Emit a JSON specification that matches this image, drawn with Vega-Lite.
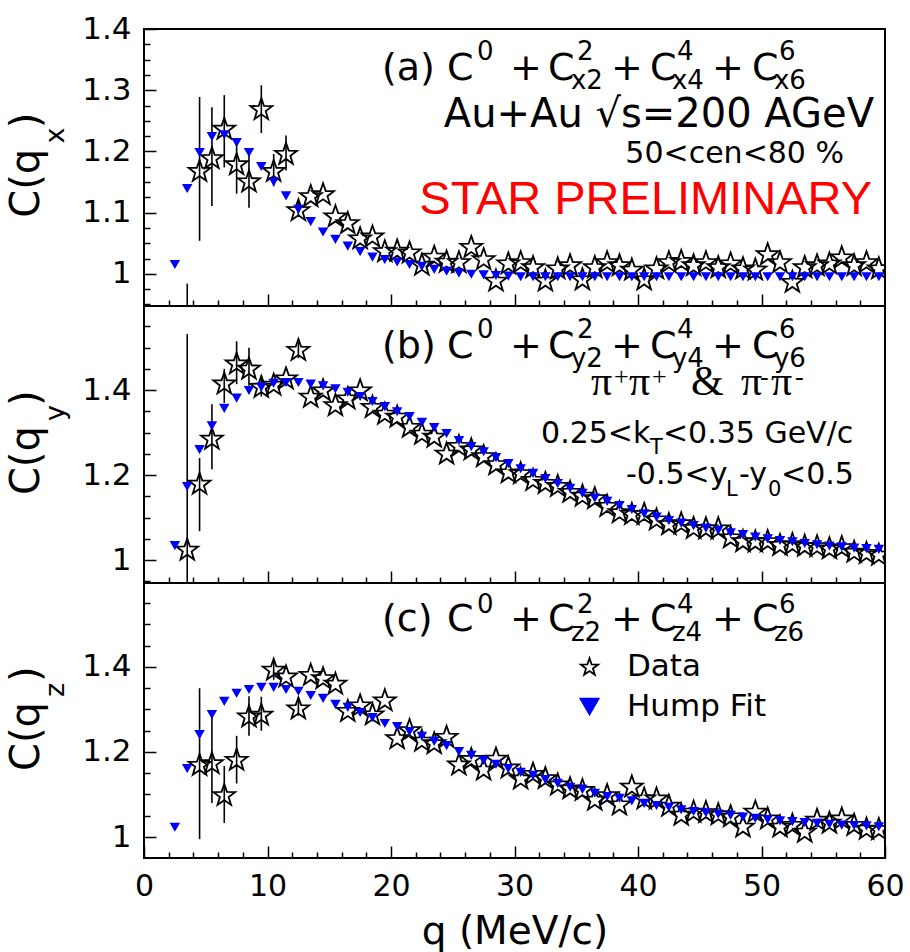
{
"$schema":"https://vega.github.io/schema/vega-lite/v6.json",
"background":"white",
"padding":{"left":6,"top":12,"right":4,"bottom":0},
"spacing":0,
"bounds":"flush",
"config":{"view":{"stroke":"black","strokeWidth":2},"axis":{"labelFont":"DejaVu Sans","titleFont":"DejaVu Sans","labelColor":"black","titleColor":"black","tickColor":"black"},
 "legend":{"title":null,"orient":"none","legendX":430,"legendY":622,"zindex":2,"symbolSize":330,"symbolStrokeWidth":1.8,"labelFontSize":31,"labelFont":"DejaVu Sans","labelColor":"black","rowPadding":8,"labelOffset":22,"padding":0}},
"datasets":{
"pts":[
{"p":"a","s":"Data","q":4.5,"C":1.169},{"p":"a","s":"Data","q":5.5,"C":1.190},{"p":"a","s":"Data","q":6.5,"C":1.238},{"p":"a","s":"Data","q":7.5,"C":1.180},{"p":"a","s":"Data","q":8.5,"C":1.152},{"p":"a","s":"Data","q":9.5,"C":1.270},{"p":"a","s":"Data","q":10.5,"C":1.169},{"p":"a","s":"Data","q":11.5,"C":1.197},{"p":"a","s":"Data","q":12.5,"C":1.105},{"p":"a","s":"Data","q":13.5,"C":1.128},{"p":"a","s":"Data","q":14.5,"C":1.131},{"p":"a","s":"Data","q":15.5,"C":1.095},{"p":"a","s":"Data","q":16.5,"C":1.084},{"p":"a","s":"Data","q":17.5,"C":1.059},{"p":"a","s":"Data","q":18.5,"C":1.062},{"p":"a","s":"Data","q":19.5,"C":1.038},{"p":"a","s":"Data","q":20.5,"C":1.039},{"p":"a","s":"Data","q":21.5,"C":1.036},{"p":"a","s":"Data","q":22.5,"C":1.016},{"p":"a","s":"Data","q":23.5,"C":1.029},{"p":"a","s":"Data","q":24.5,"C":1.021},{"p":"a","s":"Data","q":25.5,"C":1.020},{"p":"a","s":"Data","q":26.5,"C":1.045},{"p":"a","s":"Data","q":27.5,"C":1.025},{"p":"a","s":"Data","q":28.5,"C":0.990},{"p":"a","s":"Data","q":29.5,"C":1.018},{"p":"a","s":"Data","q":30.5,"C":1.020},{"p":"a","s":"Data","q":31.5,"C":1.012},{"p":"a","s":"Data","q":32.5,"C":0.990},{"p":"a","s":"Data","q":33.5,"C":1.010},{"p":"a","s":"Data","q":34.5,"C":1.015},{"p":"a","s":"Data","q":35.5,"C":0.992},{"p":"a","s":"Data","q":36.5,"C":1.012},{"p":"a","s":"Data","q":37.5,"C":1.020},{"p":"a","s":"Data","q":38.5,"C":1.015},{"p":"a","s":"Data","q":39.5,"C":1.008},{"p":"a","s":"Data","q":40.5,"C":0.992},{"p":"a","s":"Data","q":41.5,"C":1.010},{"p":"a","s":"Data","q":42.5,"C":1.020},{"p":"a","s":"Data","q":43.5,"C":1.022},{"p":"a","s":"Data","q":44.5,"C":1.015},{"p":"a","s":"Data","q":45.5,"C":1.020},{"p":"a","s":"Data","q":46.5,"C":1.012},{"p":"a","s":"Data","q":47.5,"C":1.018},{"p":"a","s":"Data","q":48.5,"C":1.010},{"p":"a","s":"Data","q":49.5,"C":1.008},{"p":"a","s":"Data","q":50.5,"C":1.033},{"p":"a","s":"Data","q":51.5,"C":1.020},{"p":"a","s":"Data","q":52.5,"C":0.988},{"p":"a","s":"Data","q":53.5,"C":1.012},{"p":"a","s":"Data","q":54.5,"C":1.015},{"p":"a","s":"Data","q":55.5,"C":1.018},{"p":"a","s":"Data","q":56.5,"C":1.028},{"p":"a","s":"Data","q":57.5,"C":1.015},{"p":"a","s":"Data","q":58.5,"C":1.020},{"p":"a","s":"Data","q":59.5,"C":1.010},
{"p":"a","s":"Hump Fit","q":2.5,"C":1.016},{"p":"a","s":"Hump Fit","q":3.5,"C":1.140},{"p":"a","s":"Hump Fit","q":4.5,"C":1.199},{"p":"a","s":"Hump Fit","q":5.5,"C":1.225},{"p":"a","s":"Hump Fit","q":6.5,"C":1.228},{"p":"a","s":"Hump Fit","q":7.5,"C":1.215},{"p":"a","s":"Hump Fit","q":8.5,"C":1.199},{"p":"a","s":"Hump Fit","q":9.5,"C":1.176},{"p":"a","s":"Hump Fit","q":10.5,"C":1.151},{"p":"a","s":"Hump Fit","q":11.5,"C":1.128},{"p":"a","s":"Hump Fit","q":12.5,"C":1.106},{"p":"a","s":"Hump Fit","q":13.5,"C":1.086},{"p":"a","s":"Hump Fit","q":14.5,"C":1.069},{"p":"a","s":"Hump Fit","q":15.5,"C":1.057},{"p":"a","s":"Hump Fit","q":16.5,"C":1.046},{"p":"a","s":"Hump Fit","q":17.5,"C":1.037},{"p":"a","s":"Hump Fit","q":18.5,"C":1.028},{"p":"a","s":"Hump Fit","q":19.5,"C":1.024},{"p":"a","s":"Hump Fit","q":20.5,"C":1.020},{"p":"a","s":"Hump Fit","q":21.5,"C":1.016},{"p":"a","s":"Hump Fit","q":22.5,"C":1.013},{"p":"a","s":"Hump Fit","q":23.5,"C":1.008},{"p":"a","s":"Hump Fit","q":24.5,"C":1.005},{"p":"a","s":"Hump Fit","q":25.5,"C":1.002},{"p":"a","s":"Hump Fit","q":26.5,"C":1.000},{"p":"a","s":"Hump Fit","q":27.5,"C":0.999},{"p":"a","s":"Hump Fit","q":28.5,"C":0.998},{"p":"a","s":"Hump Fit","q":29.5,"C":0.997},{"p":"a","s":"Hump Fit","q":30.5,"C":0.996},{"p":"a","s":"Hump Fit","q":31.5,"C":0.996},{"p":"a","s":"Hump Fit","q":32.5,"C":0.996},{"p":"a","s":"Hump Fit","q":33.5,"C":0.996},{"p":"a","s":"Hump Fit","q":34.5,"C":0.996},{"p":"a","s":"Hump Fit","q":35.5,"C":0.996},{"p":"a","s":"Hump Fit","q":36.5,"C":0.996},{"p":"a","s":"Hump Fit","q":37.5,"C":0.996},{"p":"a","s":"Hump Fit","q":38.5,"C":0.996},{"p":"a","s":"Hump Fit","q":39.5,"C":0.996},{"p":"a","s":"Hump Fit","q":40.5,"C":0.996},{"p":"a","s":"Hump Fit","q":41.5,"C":0.996},{"p":"a","s":"Hump Fit","q":42.5,"C":0.996},{"p":"a","s":"Hump Fit","q":43.5,"C":0.996},{"p":"a","s":"Hump Fit","q":44.5,"C":0.996},{"p":"a","s":"Hump Fit","q":45.5,"C":0.996},{"p":"a","s":"Hump Fit","q":46.5,"C":0.996},{"p":"a","s":"Hump Fit","q":47.5,"C":0.996},{"p":"a","s":"Hump Fit","q":48.5,"C":0.996},{"p":"a","s":"Hump Fit","q":49.5,"C":0.996},{"p":"a","s":"Hump Fit","q":50.5,"C":0.996},{"p":"a","s":"Hump Fit","q":51.5,"C":0.996},{"p":"a","s":"Hump Fit","q":52.5,"C":0.996},{"p":"a","s":"Hump Fit","q":53.5,"C":0.996},{"p":"a","s":"Hump Fit","q":54.5,"C":0.996},{"p":"a","s":"Hump Fit","q":55.5,"C":0.996},{"p":"a","s":"Hump Fit","q":56.5,"C":0.996},{"p":"a","s":"Hump Fit","q":57.5,"C":0.996},{"p":"a","s":"Hump Fit","q":58.5,"C":0.996},{"p":"a","s":"Hump Fit","q":59.5,"C":0.996},
{"p":"b","s":"Data","q":3.5,"C":1.026},{"p":"b","s":"Data","q":4.5,"C":1.181},{"p":"b","s":"Data","q":5.5,"C":1.287},{"p":"b","s":"Data","q":6.5,"C":1.417},{"p":"b","s":"Data","q":7.5,"C":1.464},{"p":"b","s":"Data","q":8.5,"C":1.452},{"p":"b","s":"Data","q":9.5,"C":1.409},{"p":"b","s":"Data","q":10.5,"C":1.414},{"p":"b","s":"Data","q":11.5,"C":1.429},{"p":"b","s":"Data","q":12.5,"C":1.496},{"p":"b","s":"Data","q":13.5,"C":1.386},{"p":"b","s":"Data","q":14.5,"C":1.401},{"p":"b","s":"Data","q":15.5,"C":1.366},{"p":"b","s":"Data","q":16.5,"C":1.382},{"p":"b","s":"Data","q":17.5,"C":1.401},{"p":"b","s":"Data","q":18.5,"C":1.362},{"p":"b","s":"Data","q":19.5,"C":1.346},{"p":"b","s":"Data","q":20.5,"C":1.339},{"p":"b","s":"Data","q":21.5,"C":1.315},{"p":"b","s":"Data","q":22.5,"C":1.299},{"p":"b","s":"Data","q":23.5,"C":1.292},{"p":"b","s":"Data","q":24.5,"C":1.252},{"p":"b","s":"Data","q":25.5,"C":1.270},{"p":"b","s":"Data","q":26.5,"C":1.262},{"p":"b","s":"Data","q":27.5,"C":1.246},{"p":"b","s":"Data","q":28.5,"C":1.227},{"p":"b","s":"Data","q":29.5,"C":1.208},{"p":"b","s":"Data","q":30.5,"C":1.206},{"p":"b","s":"Data","q":31.5,"C":1.190},{"p":"b","s":"Data","q":32.5,"C":1.183},{"p":"b","s":"Data","q":33.5,"C":1.176},{"p":"b","s":"Data","q":34.5,"C":1.162},{"p":"b","s":"Data","q":35.5,"C":1.153},{"p":"b","s":"Data","q":36.5,"C":1.147},{"p":"b","s":"Data","q":37.5,"C":1.129},{"p":"b","s":"Data","q":38.5,"C":1.114},{"p":"b","s":"Data","q":39.5,"C":1.110},{"p":"b","s":"Data","q":40.5,"C":1.110},{"p":"b","s":"Data","q":41.5,"C":1.097},{"p":"b","s":"Data","q":42.5,"C":1.086},{"p":"b","s":"Data","q":43.5,"C":1.088},{"p":"b","s":"Data","q":44.5,"C":1.077},{"p":"b","s":"Data","q":45.5,"C":1.076},{"p":"b","s":"Data","q":46.5,"C":1.076},{"p":"b","s":"Data","q":47.5,"C":1.055},{"p":"b","s":"Data","q":48.5,"C":1.046},{"p":"b","s":"Data","q":49.5,"C":1.045},{"p":"b","s":"Data","q":50.5,"C":1.046},{"p":"b","s":"Data","q":51.5,"C":1.037},{"p":"b","s":"Data","q":52.5,"C":1.039},{"p":"b","s":"Data","q":53.5,"C":1.035},{"p":"b","s":"Data","q":54.5,"C":1.034},{"p":"b","s":"Data","q":55.5,"C":1.029},{"p":"b","s":"Data","q":56.5,"C":1.032},{"p":"b","s":"Data","q":57.5,"C":1.021},{"p":"b","s":"Data","q":58.5,"C":1.018},{"p":"b","s":"Data","q":59.5,"C":1.014},
{"p":"b","s":"Hump Fit","q":2.5,"C":1.035},{"p":"b","s":"Hump Fit","q":3.5,"C":1.174},{"p":"b","s":"Hump Fit","q":4.5,"C":1.261},{"p":"b","s":"Hump Fit","q":5.5,"C":1.317},{"p":"b","s":"Hump Fit","q":6.5,"C":1.358},{"p":"b","s":"Hump Fit","q":7.5,"C":1.382},{"p":"b","s":"Hump Fit","q":8.5,"C":1.400},{"p":"b","s":"Hump Fit","q":9.5,"C":1.408},{"p":"b","s":"Hump Fit","q":10.5,"C":1.417},{"p":"b","s":"Hump Fit","q":11.5,"C":1.419},{"p":"b","s":"Hump Fit","q":12.5,"C":1.419},{"p":"b","s":"Hump Fit","q":13.5,"C":1.415},{"p":"b","s":"Hump Fit","q":14.5,"C":1.411},{"p":"b","s":"Hump Fit","q":15.5,"C":1.404},{"p":"b","s":"Hump Fit","q":16.5,"C":1.396},{"p":"b","s":"Hump Fit","q":17.5,"C":1.386},{"p":"b","s":"Hump Fit","q":18.5,"C":1.374},{"p":"b","s":"Hump Fit","q":19.5,"C":1.362},{"p":"b","s":"Hump Fit","q":20.5,"C":1.350},{"p":"b","s":"Hump Fit","q":21.5,"C":1.339},{"p":"b","s":"Hump Fit","q":22.5,"C":1.325},{"p":"b","s":"Hump Fit","q":23.5,"C":1.313},{"p":"b","s":"Hump Fit","q":24.5,"C":1.299},{"p":"b","s":"Hump Fit","q":25.5,"C":1.282},{"p":"b","s":"Hump Fit","q":26.5,"C":1.268},{"p":"b","s":"Hump Fit","q":27.5,"C":1.256},{"p":"b","s":"Hump Fit","q":28.5,"C":1.242},{"p":"b","s":"Hump Fit","q":29.5,"C":1.228},{"p":"b","s":"Hump Fit","q":30.5,"C":1.216},{"p":"b","s":"Hump Fit","q":31.5,"C":1.205},{"p":"b","s":"Hump Fit","q":32.5,"C":1.193},{"p":"b","s":"Hump Fit","q":33.5,"C":1.181},{"p":"b","s":"Hump Fit","q":34.5,"C":1.170},{"p":"b","s":"Hump Fit","q":35.5,"C":1.158},{"p":"b","s":"Hump Fit","q":36.5,"C":1.147},{"p":"b","s":"Hump Fit","q":37.5,"C":1.139},{"p":"b","s":"Hump Fit","q":38.5,"C":1.129},{"p":"b","s":"Hump Fit","q":39.5,"C":1.120},{"p":"b","s":"Hump Fit","q":40.5,"C":1.110},{"p":"b","s":"Hump Fit","q":41.5,"C":1.102},{"p":"b","s":"Hump Fit","q":42.5,"C":1.094},{"p":"b","s":"Hump Fit","q":43.5,"C":1.088},{"p":"b","s":"Hump Fit","q":44.5,"C":1.082},{"p":"b","s":"Hump Fit","q":45.5,"C":1.076},{"p":"b","s":"Hump Fit","q":46.5,"C":1.071},{"p":"b","s":"Hump Fit","q":47.5,"C":1.065},{"p":"b","s":"Hump Fit","q":48.5,"C":1.061},{"p":"b","s":"Hump Fit","q":49.5,"C":1.055},{"p":"b","s":"Hump Fit","q":50.5,"C":1.051},{"p":"b","s":"Hump Fit","q":51.5,"C":1.047},{"p":"b","s":"Hump Fit","q":52.5,"C":1.044},{"p":"b","s":"Hump Fit","q":53.5,"C":1.040},{"p":"b","s":"Hump Fit","q":54.5,"C":1.037},{"p":"b","s":"Hump Fit","q":55.5,"C":1.034},{"p":"b","s":"Hump Fit","q":56.5,"C":1.032},{"p":"b","s":"Hump Fit","q":57.5,"C":1.029},{"p":"b","s":"Hump Fit","q":58.5,"C":1.028},{"p":"b","s":"Hump Fit","q":59.5,"C":1.026},
{"p":"c","s":"Data","q":4.5,"C":1.171},{"p":"c","s":"Data","q":5.5,"C":1.175},{"p":"c","s":"Data","q":6.5,"C":1.100},{"p":"c","s":"Data","q":7.5,"C":1.183},{"p":"c","s":"Data","q":8.5,"C":1.285},{"p":"c","s":"Data","q":9.5,"C":1.289},{"p":"c","s":"Data","q":10.5,"C":1.395},{"p":"c","s":"Data","q":11.5,"C":1.379},{"p":"c","s":"Data","q":12.5,"C":1.304},{"p":"c","s":"Data","q":13.5,"C":1.383},{"p":"c","s":"Data","q":14.5,"C":1.375},{"p":"c","s":"Data","q":15.5,"C":1.362},{"p":"c","s":"Data","q":16.5,"C":1.298},{"p":"c","s":"Data","q":17.5,"C":1.311},{"p":"c","s":"Data","q":18.5,"C":1.290},{"p":"c","s":"Data","q":19.5,"C":1.323},{"p":"c","s":"Data","q":20.5,"C":1.234},{"p":"c","s":"Data","q":21.5,"C":1.253},{"p":"c","s":"Data","q":22.5,"C":1.228},{"p":"c","s":"Data","q":23.5,"C":1.222},{"p":"c","s":"Data","q":24.5,"C":1.237},{"p":"c","s":"Data","q":25.5,"C":1.172},{"p":"c","s":"Data","q":26.5,"C":1.185},{"p":"c","s":"Data","q":27.5,"C":1.160},{"p":"c","s":"Data","q":28.5,"C":1.186},{"p":"c","s":"Data","q":29.5,"C":1.165},{"p":"c","s":"Data","q":30.5,"C":1.139},{"p":"c","s":"Data","q":31.5,"C":1.150},{"p":"c","s":"Data","q":32.5,"C":1.140},{"p":"c","s":"Data","q":33.5,"C":1.125},{"p":"c","s":"Data","q":34.5,"C":1.116},{"p":"c","s":"Data","q":35.5,"C":1.112},{"p":"c","s":"Data","q":36.5,"C":1.089},{"p":"c","s":"Data","q":37.5,"C":1.100},{"p":"c","s":"Data","q":38.5,"C":1.078},{"p":"c","s":"Data","q":39.5,"C":1.120},{"p":"c","s":"Data","q":40.5,"C":1.092},{"p":"c","s":"Data","q":41.5,"C":1.092},{"p":"c","s":"Data","q":42.5,"C":1.075},{"p":"c","s":"Data","q":43.5,"C":1.054},{"p":"c","s":"Data","q":44.5,"C":1.061},{"p":"c","s":"Data","q":45.5,"C":1.060},{"p":"c","s":"Data","q":46.5,"C":1.055},{"p":"c","s":"Data","q":47.5,"C":1.050},{"p":"c","s":"Data","q":48.5,"C":1.026},{"p":"c","s":"Data","q":49.5,"C":1.061},{"p":"c","s":"Data","q":50.5,"C":1.045},{"p":"c","s":"Data","q":51.5,"C":1.026},{"p":"c","s":"Data","q":52.5,"C":1.030},{"p":"c","s":"Data","q":53.5,"C":1.014},{"p":"c","s":"Data","q":54.5,"C":1.042},{"p":"c","s":"Data","q":55.5,"C":1.035},{"p":"c","s":"Data","q":56.5,"C":1.045},{"p":"c","s":"Data","q":57.5,"C":1.030},{"p":"c","s":"Data","q":58.5,"C":1.021},{"p":"c","s":"Data","q":59.5,"C":1.020},
{"p":"c","s":"Hump Fit","q":2.5,"C":1.024},{"p":"c","s":"Hump Fit","q":3.5,"C":1.162},{"p":"c","s":"Hump Fit","q":4.5,"C":1.242},{"p":"c","s":"Hump Fit","q":5.5,"C":1.289},{"p":"c","s":"Hump Fit","q":6.5,"C":1.320},{"p":"c","s":"Hump Fit","q":7.5,"C":1.339},{"p":"c","s":"Hump Fit","q":8.5,"C":1.348},{"p":"c","s":"Hump Fit","q":9.5,"C":1.353},{"p":"c","s":"Hump Fit","q":10.5,"C":1.353},{"p":"c","s":"Hump Fit","q":11.5,"C":1.348},{"p":"c","s":"Hump Fit","q":12.5,"C":1.344},{"p":"c","s":"Hump Fit","q":13.5,"C":1.334},{"p":"c","s":"Hump Fit","q":14.5,"C":1.327},{"p":"c","s":"Hump Fit","q":15.5,"C":1.313},{"p":"c","s":"Hump Fit","q":16.5,"C":1.306},{"p":"c","s":"Hump Fit","q":17.5,"C":1.294},{"p":"c","s":"Hump Fit","q":18.5,"C":1.282},{"p":"c","s":"Hump Fit","q":19.5,"C":1.268},{"p":"c","s":"Hump Fit","q":20.5,"C":1.261},{"p":"c","s":"Hump Fit","q":21.5,"C":1.249},{"p":"c","s":"Hump Fit","q":22.5,"C":1.238},{"p":"c","s":"Hump Fit","q":23.5,"C":1.226},{"p":"c","s":"Hump Fit","q":24.5,"C":1.216},{"p":"c","s":"Hump Fit","q":25.5,"C":1.202},{"p":"c","s":"Hump Fit","q":26.5,"C":1.193},{"p":"c","s":"Hump Fit","q":27.5,"C":1.181},{"p":"c","s":"Hump Fit","q":28.5,"C":1.172},{"p":"c","s":"Hump Fit","q":29.5,"C":1.162},{"p":"c","s":"Hump Fit","q":30.5,"C":1.153},{"p":"c","s":"Hump Fit","q":31.5,"C":1.146},{"p":"c","s":"Hump Fit","q":32.5,"C":1.136},{"p":"c","s":"Hump Fit","q":33.5,"C":1.127},{"p":"c","s":"Hump Fit","q":34.5,"C":1.118},{"p":"c","s":"Hump Fit","q":35.5,"C":1.113},{"p":"c","s":"Hump Fit","q":36.5,"C":1.104},{"p":"c","s":"Hump Fit","q":37.5,"C":1.096},{"p":"c","s":"Hump Fit","q":38.5,"C":1.092},{"p":"c","s":"Hump Fit","q":39.5,"C":1.086},{"p":"c","s":"Hump Fit","q":40.5,"C":1.080},{"p":"c","s":"Hump Fit","q":41.5,"C":1.075},{"p":"c","s":"Hump Fit","q":42.5,"C":1.071},{"p":"c","s":"Hump Fit","q":43.5,"C":1.065},{"p":"c","s":"Hump Fit","q":44.5,"C":1.061},{"p":"c","s":"Hump Fit","q":45.5,"C":1.058},{"p":"c","s":"Hump Fit","q":46.5,"C":1.055},{"p":"c","s":"Hump Fit","q":47.5,"C":1.052},{"p":"c","s":"Hump Fit","q":48.5,"C":1.048},{"p":"c","s":"Hump Fit","q":49.5,"C":1.045},{"p":"c","s":"Hump Fit","q":50.5,"C":1.042},{"p":"c","s":"Hump Fit","q":51.5,"C":1.039},{"p":"c","s":"Hump Fit","q":52.5,"C":1.037},{"p":"c","s":"Hump Fit","q":53.5,"C":1.035},{"p":"c","s":"Hump Fit","q":54.5,"C":1.033},{"p":"c","s":"Hump Fit","q":55.5,"C":1.031},{"p":"c","s":"Hump Fit","q":56.5,"C":1.029},{"p":"c","s":"Hump Fit","q":57.5,"C":1.028},{"p":"c","s":"Hump Fit","q":58.5,"C":1.027},{"p":"c","s":"Hump Fit","q":59.5,"C":1.025}
],
"err":[
{"p":"a","q":3.5,"lo":0.9,"hi":0.984},{"p":"a","q":4.5,"lo":1.054,"hi":1.289},{"p":"a","q":5.5,"lo":1.111,"hi":1.272},{"p":"a","q":6.5,"lo":1.174,"hi":1.292},{"p":"a","q":7.5,"lo":1.131,"hi":1.218},{"p":"a","q":8.5,"lo":1.108,"hi":1.202},{"p":"a","q":9.5,"lo":1.230,"hi":1.308},{"p":"a","q":10.5,"lo":1.143,"hi":1.196},{"p":"a","q":11.5,"lo":1.169,"hi":1.226},{"p":"a","q":12.5,"lo":1.093,"hi":1.118},
{"p":"b","q":3.5,"lo":0.5,"hi":1.532},{"p":"b","q":4.5,"lo":1.068,"hi":1.240},{"p":"b","q":5.5,"lo":1.214,"hi":1.367},{"p":"b","q":6.5,"lo":1.370,"hi":1.450},{"p":"b","q":7.5,"lo":1.414,"hi":1.515},{"p":"b","q":8.5,"lo":1.410,"hi":1.500},{"p":"b","q":9.5,"lo":1.385,"hi":1.435},{"p":"b","q":12.5,"lo":1.475,"hi":1.520},
{"p":"c","q":4.5,"lo":0.995,"hi":1.350},{"p":"c","q":5.5,"lo":1.080,"hi":1.285},{"p":"c","q":6.5,"lo":1.033,"hi":1.167},{"p":"c","q":7.5,"lo":1.126,"hi":1.238},{"p":"c","q":8.5,"lo":1.238,"hi":1.331},{"p":"c","q":9.5,"lo":1.250,"hi":1.330},{"p":"c","q":10.5,"lo":1.370,"hi":1.420},{"p":"c","q":12.5,"lo":1.285,"hi":1.325}
],
"ann":[
{"p":"a","r":"head","q":19.27,"C":1.3164,"t":"(a)"},{"p":"a","r":"head","q":24.53,"C":1.3164,"t":"C"},{"p":"a","r":"head","q":29.64,"C":1.3164,"t":"+"},{"p":"a","r":"head","q":32.71,"C":1.3164,"t":"C"},{"p":"a","r":"head","q":37.81,"C":1.3164,"t":"+"},{"p":"a","r":"head","q":40.97,"C":1.3164,"t":"C"},{"p":"a","r":"head","q":45.99,"C":1.3164,"t":"+"},{"p":"a","r":"head","q":49.23,"C":1.3164,"t":"C"},
{"p":"a","r":"hs","q":26.96,"C":1.3492,"t":"0"},{"p":"a","r":"hs","q":35.06,"C":1.3492,"t":"2"},{"p":"a","r":"hs","q":43.16,"C":1.3492,"t":"4"},{"p":"a","r":"hs","q":51.42,"C":1.3492,"t":"6"},{"p":"a","r":"hs","q":34.57,"C":1.3016,"t":"x2"},{"p":"a","r":"hs","q":42.75,"C":1.3016,"t":"x4"},{"p":"a","r":"hs","q":51.01,"C":1.3016,"t":"x6"},
{"p":"a","r":"big","q":59.11,"C":1.2393,"t":"Au+Au √s=200 AGeV"},
{"p":"a","r":"mid","q":56.68,"C":1.1803,"t":"50<cen<80 %"},
{"p":"a","r":"prelim","q":58.95,"C":1.0984,"t":"STAR PRELIMINARY"},
{"p":"a","r":"yt","q":-8.5,"C":1.0918,"t":"C(q"},{"p":"a","r":"yt","q":-8.5,"C":1.2377,"t":")"},{"p":"a","r":"yts","q":-6.48,"C":1.2131,"t":"x"},
{"p":"b","r":"head","q":19.27,"C":1.4753,"t":"(b)"},{"p":"b","r":"head","q":24.53,"C":1.4753,"t":"C"},{"p":"b","r":"head","q":29.64,"C":1.4753,"t":"+"},{"p":"b","r":"head","q":32.71,"C":1.4753,"t":"C"},{"p":"b","r":"head","q":37.81,"C":1.4753,"t":"+"},{"p":"b","r":"head","q":40.97,"C":1.4753,"t":"C"},{"p":"b","r":"head","q":45.99,"C":1.4753,"t":"+"},{"p":"b","r":"head","q":49.23,"C":1.4753,"t":"C"},
{"p":"b","r":"hs","q":26.96,"C":1.5224,"t":"0"},{"p":"b","r":"hs","q":35.06,"C":1.5224,"t":"2"},{"p":"b","r":"hs","q":43.16,"C":1.5224,"t":"4"},{"p":"b","r":"hs","q":51.42,"C":1.5224,"t":"6"},{"p":"b","r":"hs","q":34.57,"C":1.4541,"t":"y2"},{"p":"b","r":"hs","q":42.75,"C":1.4541,"t":"y4"},{"p":"b","r":"hs","q":51.01,"C":1.4541,"t":"y6"},
{"p":"b","r":"pi","q":36.19,"C":1.3882,"t":"π"},{"p":"b","r":"pi","q":39.27,"C":1.3882,"t":"π"},{"p":"b","r":"pi","q":44.29,"C":1.3882,"t":"&"},{"p":"b","r":"pi","q":48.34,"C":1.3882,"t":"π"},{"p":"b","r":"pi","q":50.77,"C":1.3882,"t":"π"},
{"p":"b","r":"pis","q":38.06,"C":1.4118,"t":"+"},{"p":"b","r":"pis","q":41.13,"C":1.4118,"t":"+"},{"p":"b","r":"pis","q":49.88,"C":1.4118,"t":"-"},{"p":"b","r":"pis","q":52.71,"C":1.4118,"t":"-"},
{"p":"b","r":"kt","q":32.15,"C":1.2753,"t":"0.25<k"},{"p":"b","r":"kt","q":42.02,"C":1.2753,"t":"<0.35 GeV/c"},{"p":"b","r":"kt","q":39.03,"C":1.1788,"t":"-0.5<y"},{"p":"b","r":"kt","q":48.18,"C":1.1788,"t":"-y"},{"p":"b","r":"kt","q":51.58,"C":1.1788,"t":"<0.5"},
{"p":"b","r":"kts","q":40.97,"C":1.2494,"t":"T"},{"p":"b","r":"kts","q":47.13,"C":1.1506,"t":"L"},{"p":"b","r":"kts","q":50.53,"C":1.1506,"t":"0"},
{"p":"b","r":"yt","q":-8.5,"C":1.1529,"t":"C(q"},{"p":"b","r":"yt","q":-8.5,"C":1.3624,"t":")"},{"p":"b","r":"yts","q":-6.48,"C":1.3271,"t":"y"},
{"p":"c","r":"head","q":19.27,"C":1.4847,"t":"(c)"},{"p":"c","r":"head","q":24.53,"C":1.4847,"t":"C"},{"p":"c","r":"head","q":29.64,"C":1.4847,"t":"+"},{"p":"c","r":"head","q":32.71,"C":1.4847,"t":"C"},{"p":"c","r":"head","q":37.81,"C":1.4847,"t":"+"},{"p":"c","r":"head","q":40.97,"C":1.4847,"t":"C"},{"p":"c","r":"head","q":45.99,"C":1.4847,"t":"+"},{"p":"c","r":"head","q":49.23,"C":1.4847,"t":"C"},
{"p":"c","r":"hs","q":26.96,"C":1.528,"t":"0"},{"p":"c","r":"hs","q":35.06,"C":1.528,"t":"2"},{"p":"c","r":"hs","q":43.16,"C":1.528,"t":"4"},{"p":"c","r":"hs","q":51.42,"C":1.528,"t":"6"},{"p":"c","r":"hs","q":34.57,"C":1.4612,"t":"z2"},{"p":"c","r":"hs","q":42.75,"C":1.4612,"t":"z4"},{"p":"c","r":"hs","q":51.01,"C":1.4612,"t":"z6"},
{"p":"c","r":"yt","q":-8.5,"C":1.1553,"t":"C(q"},{"p":"c","r":"yt","q":-8.5,"C":1.3647,"t":")"},{"p":"c","r":"yts","q":-6.48,"C":1.3294,"t":"z"}
]
},
"vconcat":[
{"width":741,"height":277,
 "resolve":{"axis":{"x":"independent","y":"independent"}},
 "layer":[
  {"mark":{"type":"rule","strokeDash":[7,5],"color":"black","strokeWidth":1},
   "encoding":{"x":{"datum":2,"type":"quantitative","scale":{"domain":[0,60],"nice":false,"zero":false},"axis":{"orient":"bottom","values":[10,20,30,40,50],"tickSize":-12,"tickWidth":1.5,"labels":false,"domain":false,"grid":false,"title":null}},
    "x2":{"datum":60},
    "y":{"datum":1,"type":"quantitative","scale":{"domain":[0.9475,1.4],"nice":false,"zero":false},"axis":{"orient":"left","values":[1,1.1,1.2,1.3,1.4],"format":"~g","tickSize":-12,"tickWidth":1.5,"labelPadding":25,"labelFontSize":31,"labelOverlap":false,"labelFlush":false,"labelBound":false,"domain":false,"grid":false,"title":null}}}},
  {"data":{"name":"err"},"transform":[{"filter":"datum.p=='a'"}],
   "mark":{"type":"rule","color":"black","strokeWidth":1.6,"clip":true},
   "encoding":{"x":{"field":"q","type":"quantitative","scale":{"domain":[0,60],"nice":false,"zero":false},"axis":{"orient":"bottom","values":[2,4,6,8,12,14,16,18,22,24,26,28,32,34,36,38,42,44,46,48,52,54,56,58],"tickSize":-6,"tickWidth":1.5,"labels":false,"domain":false,"grid":false,"title":null}},
    "y":{"field":"lo","type":"quantitative","scale":{"domain":[0.9475,1.4],"nice":false,"zero":false},"axis":{"orient":"left","values":[0.95,0.975,1.025,1.05,1.075,1.125,1.15,1.175,1.225,1.25,1.275,1.325,1.35,1.375],"tickSize":-6,"tickWidth":1.5,"labels":false,"domain":false,"grid":false,"title":null}},
    "y2":{"field":"hi"}}},
  {"data":{"name":"pts"},"transform":[{"filter":"datum.p=='a' && datum.s=='Data'"}],
   "mark":{"type":"point","filled":true,"strokeWidth":1.8,"clip":true,"opacity":1,"size":530},
   "encoding":{"x":{"field":"q","type":"quantitative","scale":{"domain":[0,60],"nice":false,"zero":false},"axis":null},
    "y":{"field":"C","type":"quantitative","scale":{"domain":[0.9475,1.4],"nice":false,"zero":false},"axis":null},
    "shape":{"field":"s","type":"nominal","title":null,"scale":{"domain":["Data","Hump Fit"],"range":["M0,-0.905L0.2351,-0.2286L0.9511,-0.214L0.3804,0.2186L0.5878,0.904L0,0.495L-0.5878,0.904L-0.3804,0.2186L-0.9511,-0.214L-0.2351,-0.2286Z","triangle-down"]}},
    "fill":{"field":"s","type":"nominal","title":null,"scale":{"domain":["Data","Hump Fit"],"range":["transparent","#0000ff"]}},
    "stroke":{"field":"s","type":"nominal","title":null,"scale":{"domain":["Data","Hump Fit"],"range":["black","#0000ff"]}}}},
  {"data":{"name":"pts"},"transform":[{"filter":"datum.p=='a' && datum.s=='Hump Fit'"}],
   "mark":{"type":"point","filled":true,"strokeWidth":1.6,"clip":true,"opacity":1,"size":60},
   "encoding":{"x":{"field":"q","type":"quantitative","scale":{"domain":[0,60],"nice":false,"zero":false},"axis":null},
    "y":{"field":"C","type":"quantitative","scale":{"domain":[0.9475,1.4],"nice":false,"zero":false},"axis":null},
    "shape":{"field":"s","type":"nominal","title":null,"scale":{"domain":["Data","Hump Fit"],"range":["M0,-0.905L0.2351,-0.2286L0.9511,-0.214L0.3804,0.2186L0.5878,0.904L0,0.495L-0.5878,0.904L-0.3804,0.2186L-0.9511,-0.214L-0.2351,-0.2286Z","triangle-down"]}},
    "fill":{"field":"s","type":"nominal","title":null,"scale":{"domain":["Data","Hump Fit"],"range":["transparent","#0000ff"]}},
    "stroke":{"field":"s","type":"nominal","title":null,"scale":{"domain":["Data","Hump Fit"],"range":["black","#0000ff"]}}}},
  {"data":{"name":"ann"},"transform":[{"filter":"datum.p=='a' && datum.r=='head'"}],
   "mark":{"type":"text","font":"DejaVu Sans","fontSize":38,"align":"left","baseline":"alphabetic","color":"black"},
   "encoding":{"x":{"field":"q","type":"quantitative","scale":{"domain":[0,60],"nice":false,"zero":false},"axis":null},"y":{"field":"C","type":"quantitative","scale":{"domain":[0.9475,1.4],"nice":false,"zero":false},"axis":null},"text":{"field":"t"}}},
  {"data":{"name":"ann"},"transform":[{"filter":"datum.p=='a' && datum.r=='hs'"}],
   "mark":{"type":"text","font":"DejaVu Sans","fontSize":26,"align":"left","baseline":"alphabetic","color":"black"},
   "encoding":{"x":{"field":"q","type":"quantitative","scale":{"domain":[0,60],"nice":false,"zero":false},"axis":null},"y":{"field":"C","type":"quantitative","scale":{"domain":[0.9475,1.4],"nice":false,"zero":false},"axis":null},"text":{"field":"t"}}},
  {"data":{"name":"ann"},"transform":[{"filter":"datum.p=='a' && datum.r=='big'"}],
   "mark":{"type":"text","font":"DejaVu Sans","fontSize":40,"align":"right","baseline":"alphabetic","color":"black"},
   "encoding":{"x":{"field":"q","type":"quantitative","scale":{"domain":[0,60],"nice":false,"zero":false},"axis":null},"y":{"field":"C","type":"quantitative","scale":{"domain":[0.9475,1.4],"nice":false,"zero":false},"axis":null},"text":{"field":"t"}}},
  {"data":{"name":"ann"},"transform":[{"filter":"datum.p=='a' && datum.r=='mid'"}],
   "mark":{"type":"text","font":"DejaVu Sans","fontSize":30,"align":"right","baseline":"alphabetic","color":"black"},
   "encoding":{"x":{"field":"q","type":"quantitative","scale":{"domain":[0,60],"nice":false,"zero":false},"axis":null},"y":{"field":"C","type":"quantitative","scale":{"domain":[0.9475,1.4],"nice":false,"zero":false},"axis":null},"text":{"field":"t"}}},
  {"data":{"name":"ann"},"transform":[{"filter":"datum.p=='a' && datum.r=='prelim'"}],
   "mark":{"type":"text","font":"Liberation Sans","fontSize":47,"align":"right","baseline":"alphabetic","color":"#ff0000"},
   "encoding":{"x":{"field":"q","type":"quantitative","scale":{"domain":[0,60],"nice":false,"zero":false},"axis":null},"y":{"field":"C","type":"quantitative","scale":{"domain":[0.9475,1.4],"nice":false,"zero":false},"axis":null},"text":{"field":"t"}}},
  {"data":{"name":"ann"},"transform":[{"filter":"datum.p=='a' && datum.r=='yt'"}],
   "mark":{"type":"text","font":"DejaVu Sans","fontSize":40,"align":"left","baseline":"alphabetic","angle":270,"color":"black"},
   "encoding":{"x":{"field":"q","type":"quantitative","scale":{"domain":[0,60],"nice":false,"zero":false},"axis":null},"y":{"field":"C","type":"quantitative","scale":{"domain":[0.9475,1.4],"nice":false,"zero":false},"axis":null},"text":{"field":"t"}}},
  {"data":{"name":"ann"},"transform":[{"filter":"datum.p=='a' && datum.r=='yts'"}],
   "mark":{"type":"text","font":"DejaVu Sans","fontSize":27,"align":"left","baseline":"alphabetic","angle":270,"color":"black"},
   "encoding":{"x":{"field":"q","type":"quantitative","scale":{"domain":[0,60],"nice":false,"zero":false},"axis":null},"y":{"field":"C","type":"quantitative","scale":{"domain":[0.9475,1.4],"nice":false,"zero":false},"axis":null},"text":{"field":"t"}}}
 ]},
{"width":741,"height":277,
 "resolve":{"axis":{"x":"independent","y":"independent"}},
 "layer":[
  {"mark":{"type":"rule","strokeDash":[7,5],"color":"black","strokeWidth":1},
   "encoding":{"x":{"datum":2,"type":"quantitative","scale":{"domain":[0,60],"nice":false,"zero":false},"axis":{"orient":"bottom","values":[10,20,30,40,50],"tickSize":-12,"tickWidth":1.5,"labels":false,"domain":false,"grid":false,"title":null}},
    "x2":{"datum":60},
    "y":{"datum":1,"type":"quantitative","scale":{"domain":[0.946,1.598],"nice":false,"zero":false},"axis":{"orient":"left","values":[1,1.2,1.4],"format":"~g","tickSize":-12,"tickWidth":1.5,"labelPadding":25,"labelFontSize":31,"labelOverlap":false,"labelFlush":false,"labelBound":false,"domain":false,"grid":false,"title":null}}}},
  {"data":{"name":"err"},"transform":[{"filter":"datum.p=='b'"}],
   "mark":{"type":"rule","color":"black","strokeWidth":1.6,"clip":true},
   "encoding":{"x":{"field":"q","type":"quantitative","scale":{"domain":[0,60],"nice":false,"zero":false},"axis":{"orient":"bottom","values":[2,4,6,8,12,14,16,18,22,24,26,28,32,34,36,38,42,44,46,48,52,54,56,58],"tickSize":-6,"tickWidth":1.5,"labels":false,"domain":false,"grid":false,"title":null}},
    "y":{"field":"lo","type":"quantitative","scale":{"domain":[0.946,1.598],"nice":false,"zero":false},"axis":{"orient":"left","values":[0.95,1.05,1.1,1.15,1.25,1.3,1.35,1.45,1.5,1.55],"tickSize":-6,"tickWidth":1.5,"labels":false,"domain":false,"grid":false,"title":null}},
    "y2":{"field":"hi"}}},
  {"data":{"name":"pts"},"transform":[{"filter":"datum.p=='b' && datum.s=='Data'"}],
   "mark":{"type":"point","filled":true,"strokeWidth":1.8,"clip":true,"opacity":1,"size":530},
   "encoding":{"x":{"field":"q","type":"quantitative","scale":{"domain":[0,60],"nice":false,"zero":false},"axis":null},
    "y":{"field":"C","type":"quantitative","scale":{"domain":[0.946,1.598],"nice":false,"zero":false},"axis":null},
    "shape":{"field":"s","type":"nominal","title":null,"scale":{"domain":["Data","Hump Fit"],"range":["M0,-0.905L0.2351,-0.2286L0.9511,-0.214L0.3804,0.2186L0.5878,0.904L0,0.495L-0.5878,0.904L-0.3804,0.2186L-0.9511,-0.214L-0.2351,-0.2286Z","triangle-down"]}},
    "fill":{"field":"s","type":"nominal","title":null,"scale":{"domain":["Data","Hump Fit"],"range":["transparent","#0000ff"]}},
    "stroke":{"field":"s","type":"nominal","title":null,"scale":{"domain":["Data","Hump Fit"],"range":["black","#0000ff"]}}}},
  {"data":{"name":"pts"},"transform":[{"filter":"datum.p=='b' && datum.s=='Hump Fit'"}],
   "mark":{"type":"point","filled":true,"strokeWidth":1.6,"clip":true,"opacity":1,"size":60},
   "encoding":{"x":{"field":"q","type":"quantitative","scale":{"domain":[0,60],"nice":false,"zero":false},"axis":null},
    "y":{"field":"C","type":"quantitative","scale":{"domain":[0.946,1.598],"nice":false,"zero":false},"axis":null},
    "shape":{"field":"s","type":"nominal","title":null,"scale":{"domain":["Data","Hump Fit"],"range":["M0,-0.905L0.2351,-0.2286L0.9511,-0.214L0.3804,0.2186L0.5878,0.904L0,0.495L-0.5878,0.904L-0.3804,0.2186L-0.9511,-0.214L-0.2351,-0.2286Z","triangle-down"]}},
    "fill":{"field":"s","type":"nominal","title":null,"scale":{"domain":["Data","Hump Fit"],"range":["transparent","#0000ff"]}},
    "stroke":{"field":"s","type":"nominal","title":null,"scale":{"domain":["Data","Hump Fit"],"range":["black","#0000ff"]}}}},
  {"data":{"name":"ann"},"transform":[{"filter":"datum.p=='b' && datum.r=='head'"}],
   "mark":{"type":"text","font":"DejaVu Sans","fontSize":38,"align":"left","baseline":"alphabetic","color":"black"},
   "encoding":{"x":{"field":"q","type":"quantitative","scale":{"domain":[0,60],"nice":false,"zero":false},"axis":null},"y":{"field":"C","type":"quantitative","scale":{"domain":[0.946,1.598],"nice":false,"zero":false},"axis":null},"text":{"field":"t"}}},
  {"data":{"name":"ann"},"transform":[{"filter":"datum.p=='b' && datum.r=='hs'"}],
   "mark":{"type":"text","font":"DejaVu Sans","fontSize":26,"align":"left","baseline":"alphabetic","color":"black"},
   "encoding":{"x":{"field":"q","type":"quantitative","scale":{"domain":[0,60],"nice":false,"zero":false},"axis":null},"y":{"field":"C","type":"quantitative","scale":{"domain":[0.946,1.598],"nice":false,"zero":false},"axis":null},"text":{"field":"t"}}},
  {"data":{"name":"ann"},"transform":[{"filter":"datum.p=='b' && datum.r=='pi'"}],
   "mark":{"type":"text","font":"Liberation Serif","fontSize":42,"align":"left","baseline":"alphabetic","color":"black"},
   "encoding":{"x":{"field":"q","type":"quantitative","scale":{"domain":[0,60],"nice":false,"zero":false},"axis":null},"y":{"field":"C","type":"quantitative","scale":{"domain":[0.946,1.598],"nice":false,"zero":false},"axis":null},"text":{"field":"t"}}},
  {"data":{"name":"ann"},"transform":[{"filter":"datum.p=='b' && datum.r=='pis'"}],
   "mark":{"type":"text","font":"Liberation Serif","fontSize":26,"align":"left","baseline":"alphabetic","color":"black"},
   "encoding":{"x":{"field":"q","type":"quantitative","scale":{"domain":[0,60],"nice":false,"zero":false},"axis":null},"y":{"field":"C","type":"quantitative","scale":{"domain":[0.946,1.598],"nice":false,"zero":false},"axis":null},"text":{"field":"t"}}},
  {"data":{"name":"ann"},"transform":[{"filter":"datum.p=='b' && datum.r=='kt'"}],
   "mark":{"type":"text","font":"DejaVu Sans","fontSize":30,"align":"left","baseline":"alphabetic","color":"black"},
   "encoding":{"x":{"field":"q","type":"quantitative","scale":{"domain":[0,60],"nice":false,"zero":false},"axis":null},"y":{"field":"C","type":"quantitative","scale":{"domain":[0.946,1.598],"nice":false,"zero":false},"axis":null},"text":{"field":"t"}}},
  {"data":{"name":"ann"},"transform":[{"filter":"datum.p=='b' && datum.r=='kts'"}],
   "mark":{"type":"text","font":"DejaVu Sans","fontSize":21,"align":"left","baseline":"alphabetic","color":"black"},
   "encoding":{"x":{"field":"q","type":"quantitative","scale":{"domain":[0,60],"nice":false,"zero":false},"axis":null},"y":{"field":"C","type":"quantitative","scale":{"domain":[0.946,1.598],"nice":false,"zero":false},"axis":null},"text":{"field":"t"}}},
  {"data":{"name":"ann"},"transform":[{"filter":"datum.p=='b' && datum.r=='yt'"}],
   "mark":{"type":"text","font":"DejaVu Sans","fontSize":40,"align":"left","baseline":"alphabetic","angle":270,"color":"black"},
   "encoding":{"x":{"field":"q","type":"quantitative","scale":{"domain":[0,60],"nice":false,"zero":false},"axis":null},"y":{"field":"C","type":"quantitative","scale":{"domain":[0.946,1.598],"nice":false,"zero":false},"axis":null},"text":{"field":"t"}}},
  {"data":{"name":"ann"},"transform":[{"filter":"datum.p=='b' && datum.r=='yts'"}],
   "mark":{"type":"text","font":"DejaVu Sans","fontSize":27,"align":"left","baseline":"alphabetic","angle":270,"color":"black"},
   "encoding":{"x":{"field":"q","type":"quantitative","scale":{"domain":[0,60],"nice":false,"zero":false},"axis":null},"y":{"field":"C","type":"quantitative","scale":{"domain":[0.946,1.598],"nice":false,"zero":false},"axis":null},"text":{"field":"t"}}}
 ]},
{"width":741,"height":275,
 "resolve":{"axis":{"x":"independent","y":"independent"}},
 "layer":[
  {"mark":{"type":"rule","strokeDash":[7,5],"color":"black","strokeWidth":1},
   "encoding":{"x":{"datum":2,"type":"quantitative","scale":{"domain":[0,60],"nice":false,"zero":false},"axis":{"orient":"bottom","values":[0,10,20,30,40,50,60],"tickSize":-12,"tickWidth":1.5,"labelPadding":25,"labelFontSize":30,"labelFlush":false,"labelBound":false,"labelOverlap":false,"domain":false,"grid":false,"title":"q (MeV/c)","titleFontSize":39,"titleFontWeight":"normal","titleY":85,"titleBaseline":"alphabetic"}},
    "x2":{"datum":60},
    "y":{"datum":1,"type":"quantitative","scale":{"domain":[0.9506,1.5976],"nice":false,"zero":false},"axis":{"orient":"left","values":[1,1.2,1.4],"format":"~g","tickSize":-12,"tickWidth":1.5,"labelPadding":25,"labelFontSize":31,"labelOverlap":false,"labelFlush":false,"labelBound":false,"domain":false,"grid":false,"title":null}}}},
  {"data":{"name":"err"},"transform":[{"filter":"datum.p=='c'"}],
   "mark":{"type":"rule","color":"black","strokeWidth":1.6,"clip":true},
   "encoding":{"x":{"field":"q","type":"quantitative","scale":{"domain":[0,60],"nice":false,"zero":false},"axis":{"orient":"bottom","values":[2,4,6,8,12,14,16,18,22,24,26,28,32,34,36,38,42,44,46,48,52,54,56,58],"tickSize":-6,"tickWidth":1.5,"labels":false,"domain":false,"grid":false,"title":null}},
    "y":{"field":"lo","type":"quantitative","scale":{"domain":[0.9506,1.5976],"nice":false,"zero":false},"axis":{"orient":"left","values":[1.05,1.1,1.15,1.25,1.3,1.35,1.45,1.5,1.55],"tickSize":-6,"tickWidth":1.5,"labels":false,"domain":false,"grid":false,"title":null}},
    "y2":{"field":"hi"}}},
  {"data":{"name":"pts"},"transform":[{"filter":"datum.p=='c' && datum.s=='Data'"}],
   "mark":{"type":"point","filled":true,"strokeWidth":1.8,"clip":true,"opacity":1,"size":530},
   "encoding":{"x":{"field":"q","type":"quantitative","scale":{"domain":[0,60],"nice":false,"zero":false},"axis":null},
    "y":{"field":"C","type":"quantitative","scale":{"domain":[0.9506,1.5976],"nice":false,"zero":false},"axis":null},
    "shape":{"field":"s","type":"nominal","title":null,"scale":{"domain":["Data","Hump Fit"],"range":["M0,-0.905L0.2351,-0.2286L0.9511,-0.214L0.3804,0.2186L0.5878,0.904L0,0.495L-0.5878,0.904L-0.3804,0.2186L-0.9511,-0.214L-0.2351,-0.2286Z","triangle-down"]}},
    "fill":{"field":"s","type":"nominal","title":null,"scale":{"domain":["Data","Hump Fit"],"range":["transparent","#0000ff"]}},
    "stroke":{"field":"s","type":"nominal","title":null,"scale":{"domain":["Data","Hump Fit"],"range":["black","#0000ff"]}}}},
  {"data":{"name":"pts"},"transform":[{"filter":"datum.p=='c' && datum.s=='Hump Fit'"}],
   "mark":{"type":"point","filled":true,"strokeWidth":1.6,"clip":true,"opacity":1,"size":60},
   "encoding":{"x":{"field":"q","type":"quantitative","scale":{"domain":[0,60],"nice":false,"zero":false},"axis":null},
    "y":{"field":"C","type":"quantitative","scale":{"domain":[0.9506,1.5976],"nice":false,"zero":false},"axis":null},
    "shape":{"field":"s","type":"nominal","title":null,"scale":{"domain":["Data","Hump Fit"],"range":["M0,-0.905L0.2351,-0.2286L0.9511,-0.214L0.3804,0.2186L0.5878,0.904L0,0.495L-0.5878,0.904L-0.3804,0.2186L-0.9511,-0.214L-0.2351,-0.2286Z","triangle-down"]}},
    "fill":{"field":"s","type":"nominal","title":null,"scale":{"domain":["Data","Hump Fit"],"range":["transparent","#0000ff"]}},
    "stroke":{"field":"s","type":"nominal","title":null,"scale":{"domain":["Data","Hump Fit"],"range":["black","#0000ff"]}}}},
  {"data":{"name":"ann"},"transform":[{"filter":"datum.p=='c' && datum.r=='head'"}],
   "mark":{"type":"text","font":"DejaVu Sans","fontSize":38,"align":"left","baseline":"alphabetic","color":"black"},
   "encoding":{"x":{"field":"q","type":"quantitative","scale":{"domain":[0,60],"nice":false,"zero":false},"axis":null},"y":{"field":"C","type":"quantitative","scale":{"domain":[0.9506,1.5976],"nice":false,"zero":false},"axis":null},"text":{"field":"t"}}},
  {"data":{"name":"ann"},"transform":[{"filter":"datum.p=='c' && datum.r=='hs'"}],
   "mark":{"type":"text","font":"DejaVu Sans","fontSize":26,"align":"left","baseline":"alphabetic","color":"black"},
   "encoding":{"x":{"field":"q","type":"quantitative","scale":{"domain":[0,60],"nice":false,"zero":false},"axis":null},"y":{"field":"C","type":"quantitative","scale":{"domain":[0.9506,1.5976],"nice":false,"zero":false},"axis":null},"text":{"field":"t"}}},
  {"data":{"name":"ann"},"transform":[{"filter":"datum.p=='c' && datum.r=='yt'"}],
   "mark":{"type":"text","font":"DejaVu Sans","fontSize":40,"align":"left","baseline":"alphabetic","angle":270,"color":"black"},
   "encoding":{"x":{"field":"q","type":"quantitative","scale":{"domain":[0,60],"nice":false,"zero":false},"axis":null},"y":{"field":"C","type":"quantitative","scale":{"domain":[0.9506,1.5976],"nice":false,"zero":false},"axis":null},"text":{"field":"t"}}},
  {"data":{"name":"ann"},"transform":[{"filter":"datum.p=='c' && datum.r=='yts'"}],
   "mark":{"type":"text","font":"DejaVu Sans","fontSize":27,"align":"left","baseline":"alphabetic","angle":270,"color":"black"},
   "encoding":{"x":{"field":"q","type":"quantitative","scale":{"domain":[0,60],"nice":false,"zero":false},"axis":null},"y":{"field":"C","type":"quantitative","scale":{"domain":[0.9506,1.5976],"nice":false,"zero":false},"axis":null},"text":{"field":"t"}}}
 ]}
]
}
